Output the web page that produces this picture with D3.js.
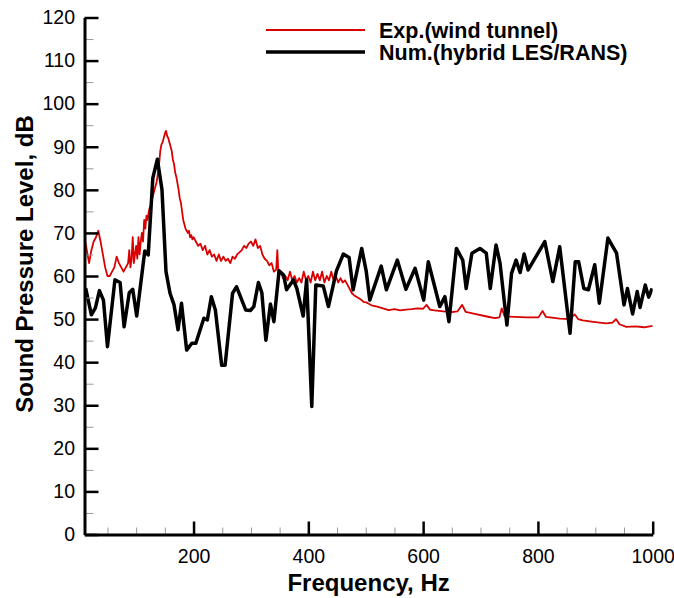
<!DOCTYPE html>
<html>
<head>
<meta charset="utf-8">
<script src="https://cdn.jsdelivr.net/npm/d3@7"></script>
<style>
  body { margin: 0; background: #fff; }
  svg { display: block; }
</style>
</head>
<body>
<div id="chart"></div>
<script>
// series names
const seriesNames = ["Exp.(wind tunnel)", "Num.(hybrid LES/RANS)"];

const expFreq = [10, 14, 18, 22, 26, 30, 34, 38, 42, 46, 50, 54, 58, 62, 66, 70, 74, 78, 82, 86,
  88, 90, 92, 94, 96, 98, 100, 102, 104, 106, 108, 110, 112, 114, 116, 118, 120, 122, 124, 126,
  128, 130, 132, 134, 136, 138, 140, 142, 144, 146, 148, 150, 152, 154, 156, 158, 160, 162, 164, 166,
  168, 170, 172, 174, 176, 178, 180, 182, 184, 186, 188, 190, 192, 194, 196, 198, 200, 204, 208, 212,
  216, 220, 224, 228, 232, 236, 240, 244, 248, 252, 256, 260, 264, 268, 272, 276, 280, 284, 288, 292,
  296, 300, 304, 308, 312, 316, 320, 324, 328, 332, 336, 340, 344, 346, 348, 352, 356, 360, 364, 368,
  372, 376, 380, 384, 388, 392, 396, 400, 404, 408, 412, 416, 420, 424, 428, 432, 436, 440, 444, 448,
  452, 456, 460, 464, 468, 472, 476, 480, 486, 492, 496, 502, 510, 520, 530, 540, 550, 560, 570, 580,
  590, 600, 606, 612, 620, 635, 650, 660, 668, 674, 690, 711, 725, 733, 737, 742, 760, 780, 801, 808,
  814, 838, 856, 864, 870, 878, 900, 919, 930, 936, 942, 954, 970, 985, 1000];
const expSPL = [69, 66, 63, 66, 68, 69, 70.5, 68, 65, 62, 60, 60, 61, 62, 64.5, 63, 62, 61, 62, 63,
  66, 62, 64, 69, 63, 65, 67, 64, 69, 65, 68, 70, 68, 73, 71, 74, 73, 75, 76, 76.5,
  78, 79, 80, 81, 82, 84, 86, 89, 90.5, 91, 92, 93, 93.7, 92.5, 92, 91, 90, 89, 87, 86,
  84, 83, 81.5, 80, 78, 77, 75, 73, 72, 71, 70.5, 70, 70.5, 69, 69.5, 68.5, 69, 68, 67, 67.5,
  66, 67, 65, 66, 64.5, 65, 63.5, 65, 63.5, 64.5, 63.5, 64, 63, 64.5, 64, 65, 65.5, 66, 67, 66.5,
  67.5, 68, 67, 68.5, 66.5, 67, 65, 64, 63.5, 62.5, 63, 61, 61.5, 66, 60, 61, 59.5, 60, 59, 61,
  59, 60, 58.5, 59.5, 58.5, 61, 59, 60, 58.5, 61, 59, 60.5, 59, 61, 58.5, 60, 59, 61, 59, 60,
  58.5, 59.5, 58.5, 59, 58, 57, 56, 55.5, 55, 54.5, 54, 53.8, 53.2, 52.9, 52.5, 52.1, 52.3, 52, 52.2, 52.3,
  52.5, 52.4, 53.3, 52.2, 52, 51.8, 51.6, 51.8, 53.3, 51.7, 51.2, 50.6, 50.2, 50.4, 52.5, 50.6, 50.5, 50.4, 50.4, 51.9,
  50.5, 50.1, 50, 51.1, 50, 49.7, 49.3, 49, 49.2, 50, 48.8, 48.2, 48.3, 48.1, 48.4];

// numerical spectrum (hybrid LES/RANS)
const numFreq = [12, 22, 29, 36, 43, 50, 63, 72, 79, 88, 94, 101, 115, 121, 129, 137, 145, 152, 159, 166,
  173, 179, 188, 197, 204, 218, 224, 231, 238, 249, 255, 268, 275, 291, 299, 305, 313, 319, 326, 334,
  340, 349, 357, 362, 374, 380, 391, 397, 406, 413, 426, 435, 449, 461, 471, 478, 493, 501, 507, 527,
  536, 555, 570, 586, 601, 609, 621, 629, 638, 645, 658, 669, 675, 685, 699, 710, 717, 727, 734, 746,
  754, 762, 769, 776, 783, 812, 826, 838, 856, 865, 871, 880, 888, 899, 907, 922, 937, 950, 956, 965,
  973, 978, 987, 993, 999];
const numSPL = [57.2, 51, 52.6, 56.6, 54.4, 43.6, 59.1, 58.5, 48.2, 56.1, 56.9, 50.7, 65.8, 64.9, 82.7, 87.1, 80, 61, 56, 53.3,
  47.5, 53.7, 42.8, 44.4, 44.4, 50.2, 49.8, 55.2, 52.1, 39.3, 39.3, 56, 57.5, 52.1, 52, 52.9, 58.5, 56.1, 45.1, 53.5,
  49.4, 61.2, 60.2, 56.8, 59.1, 57.1, 50.7, 59.1, 29.7, 57.9, 57.7, 52.9, 61.2, 65.1, 64.3, 56.8, 66.4, 61, 54.4, 62.3,
  56.8, 63.7, 56.9, 61.8, 54.4, 63.3, 57.1, 52.9, 55.2, 49.4, 66.4, 63.7, 57.1, 65.3, 66.4, 65.3, 57.1, 67.2, 63, 48.6,
  60.6, 63.7, 60.8, 65.1, 61.4, 68, 58.7, 66.8, 46.7, 63.3, 63.3, 57.1, 56.8, 62.6, 53.7, 68.8, 65.3, 53.3, 57.1, 51.2,
  56.4, 52.7, 57.9, 55.1, 57.1];

// ticks
const xTicks = [200, 400, 600, 800, 1000];
const xMinorTicks = d3.range(50, 1001, 50);
const yTicks = d3.range(0, 121, 10);
const yMinorTicks = d3.range(5, 120, 10);

const width = 674;
const height = 598;
const margin = { top: 17.5, right: 21.3, bottom: 63.5, left: 84.5 };

const svg = d3.select("#chart")
  .append("svg")
  .attr("width", width)
  .attr("height", height)
  .style("font-family", "Liberation Sans, Arial, sans-serif");

const x = d3.scaleLinear()
  .domain([10, 1000])
  .range([margin.left, width - margin.right]);

const y = d3.scaleLinear()
  .domain([0, 120])
  .range([height - margin.bottom, margin.top]);

// clip lines to the plot area
svg.append("clipPath").attr("id", "plot")
  .append("rect")
  .attr("x", margin.left)
  .attr("y", margin.top)
  .attr("width", width - margin.left - margin.right)
  .attr("height", height - margin.top - margin.bottom);

const line = d3.line()
  .x(d => x(d[0]))
  .y(d => y(d[1]));

const expData = expFreq.map((f, i) => [f, expSPL[i]]);
const numData = numFreq.map((f, i) => [f, numSPL[i]]);

svg.append("path")
  .datum(expData)
  .attr("clip-path", "url(#plot)")
  .attr("fill", "none")
  .attr("stroke", "#d80000")
  .attr("stroke-width", 1.8)
  .attr("stroke-linejoin", "round")
  .attr("d", line);

svg.append("path")
  .datum(numData)
  .attr("clip-path", "url(#plot)")
  .attr("fill", "none")
  .attr("stroke", "#000")
  .attr("stroke-width", 3.5)
  .attr("stroke-linejoin", "round")
  .attr("d", line);

// minor ticks (grey, inward)
svg.append("g")
  .attr("transform", `translate(0,${y(0)})`)
  .call(d3.axisBottom(x).tickValues(xMinorTicks).tickSize(-7).tickFormat(""))
  .call(g => g.select(".domain").remove())
  .call(g => g.selectAll("line").attr("stroke", "#999").attr("stroke-width", 1));

svg.append("g")
  .attr("transform", `translate(${x(10)},0)`)
  .call(d3.axisLeft(y).tickValues(yMinorTicks).tickSize(-9).tickFormat(""))
  .call(g => g.select(".domain").remove())
  .call(g => g.selectAll("line").attr("stroke", "#999").attr("stroke-width", 1));

// major axes
svg.append("g")
  .attr("transform", `translate(0,${y(0)})`)
  .call(d3.axisBottom(x).tickValues(xTicks).tickFormat(d3.format("d"))
    .tickSize(-13).tickSizeOuter(0).tickPadding(15))
  .call(g => g.select(".domain").attr("stroke-width", 3))
  .call(g => g.selectAll("line").attr("stroke-width", 2.5))
  .call(g => g.selectAll("text").attr("font-size", 19.5).attr("fill", "#000")
    .attr("font-family", "Liberation Sans, Arial, sans-serif"));

svg.append("g")
  .attr("transform", `translate(${x(10)},0)`)
  .call(d3.axisLeft(y).tickValues(yTicks).tickSize(-14).tickSizeOuter(0).tickPadding(9.5))
  .call(g => g.select(".domain").attr("stroke-width", 3))
  .call(g => g.selectAll("line").attr("stroke-width", 2.5))
  .call(g => g.selectAll("text").attr("font-size", 19.5).attr("fill", "#000")
    .attr("font-family", "Liberation Sans, Arial, sans-serif"));

// axis titles
svg.append("text")
  .attr("x", (x(10) + x(1000)) / 2)
  .attr("y", 591)
  .attr("text-anchor", "middle")
  .attr("font-size", 24)
  .attr("font-weight", "bold")
  .text("Frequency, Hz");

svg.append("text")
  .attr("transform", `translate(33,264) rotate(-90)`)
  .attr("text-anchor", "middle")
  .attr("font-size", 24)
  .attr("font-weight", "bold")
  .text("Sound Pressure Level, dB");

// legend
const legend = svg.append("g");
const legendColors = ["#d80000", "#000"];
const legendWidths = [1.8, 3.5];
seriesNames.forEach((name, i) => {
  const ly = 30 + i * 22;
  legend.append("line")
    .attr("x1", 266).attr("x2", 365)
    .attr("y1", ly).attr("y2", ly)
    .attr("stroke", legendColors[i])
    .attr("stroke-width", legendWidths[i]);
  legend.append("text")
    .attr("x", 379)
    .attr("y", ly + 8)
    .attr("font-size", 21.5)
    .attr("font-weight", "bold")
    .text(name);
});
</script>
</body>
</html>
